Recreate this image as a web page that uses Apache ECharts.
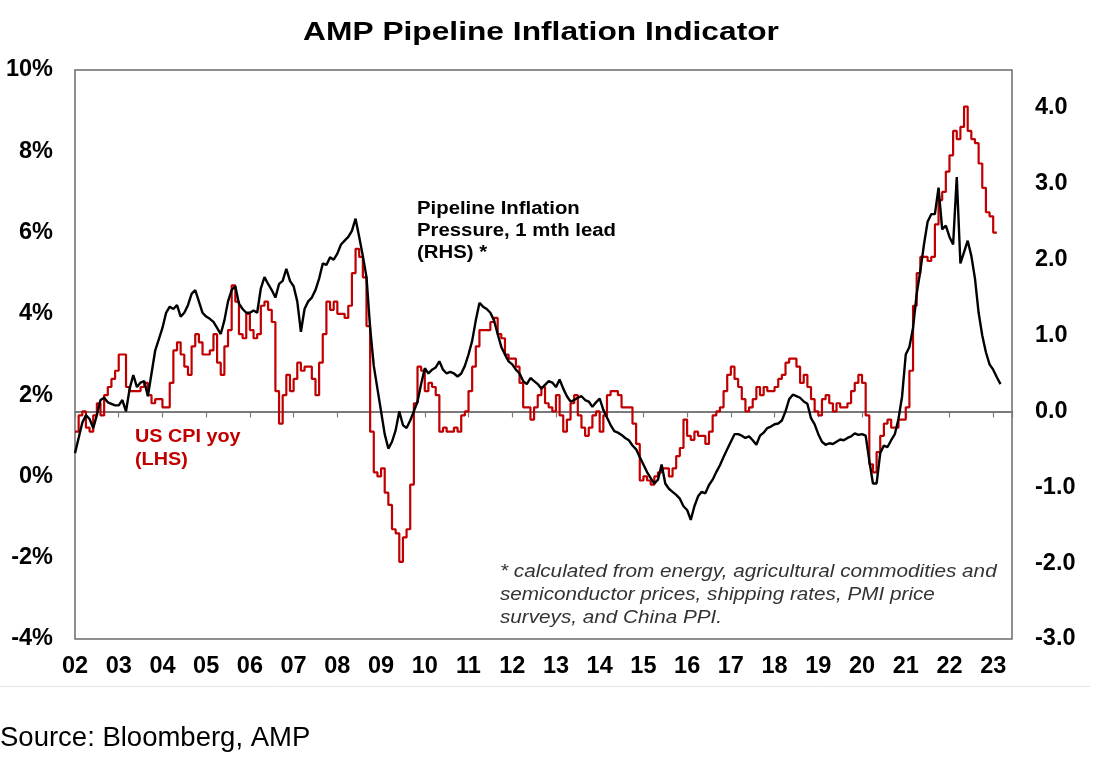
<!DOCTYPE html>
<html>
<head>
<meta charset="utf-8">
<script src="https://cdn.jsdelivr.net/npm/echarts@6/dist/echarts.min.js"></script>
<style>
html,body{margin:0;padding:0;background:#fff;}
#chart{width:1115px;height:764px;}
</style>
</head>
<body>
<div id="chart"></div>
<script>
// Monthly series start January 2002
const startYear = 2002;
const yearTicks = ['02','03','04','05','06','07','08','09','10','11','12','13','14','15','16','17','18','19','20','21','22','23'];

// US CPI yoy (%), LHS, Jan 2002 .. Feb 2023
const cpiYoy = [
  1.1,1.1,1.5,1.6,1.2,1.1,1.5,1.8,1.5,2.0,2.2,2.4,
  2.6,3.0,3.0,2.2,2.1,2.1,2.1,2.2,2.3,2.0,1.8,1.9,
  1.9,1.7,1.7,2.3,3.1,3.3,3.0,2.7,2.5,3.2,3.5,3.3,
  3.0,3.0,3.1,3.5,2.8,2.5,3.2,3.6,4.7,4.3,3.5,3.4,
  4.0,3.6,3.4,3.5,4.2,4.3,4.1,3.8,2.1,1.3,2.0,2.5,
  2.1,2.4,2.8,2.6,2.7,2.7,2.4,2.0,2.8,3.5,4.3,4.1,
  4.3,4.0,4.0,3.9,4.2,5.0,5.6,5.4,4.9,3.7,1.1,0.1,
  0.0,0.2,-0.4,-0.7,-1.3,-1.4,-2.1,-1.5,-1.3,-0.2,1.8,2.7,
  2.6,2.1,2.3,2.2,2.0,1.1,1.2,1.1,1.1,1.2,1.1,1.5,
  1.6,2.1,2.7,3.2,3.6,3.6,3.6,3.8,3.9,3.5,3.4,3.0,
  2.9,2.9,2.7,2.3,1.7,1.7,1.4,1.7,2.0,2.2,1.8,1.7,
  1.6,2.0,1.5,1.1,1.4,1.8,2.0,1.5,1.2,1.0,1.2,1.5,
  1.6,1.1,1.5,2.0,2.1,2.1,2.0,1.7,1.7,1.7,1.3,0.8,
  -0.1,0.0,-0.1,-0.2,0.0,0.1,0.2,0.2,0.0,0.2,0.5,0.7,
  1.4,1.0,0.9,1.1,1.0,1.0,0.8,1.1,1.5,1.6,1.7,2.1,
  2.5,2.7,2.4,2.2,1.9,1.6,1.7,1.9,2.2,2.0,2.2,2.1,
  2.1,2.2,2.4,2.5,2.8,2.9,2.9,2.7,2.3,2.5,2.2,1.9,
  1.6,1.5,1.9,2.0,1.8,1.6,1.8,1.7,1.7,1.8,2.1,2.3,
  2.5,2.3,1.5,0.3,0.1,0.6,1.0,1.3,1.4,1.2,1.2,1.4,
  1.4,1.7,2.6,4.2,5.0,5.4,5.4,5.3,5.4,6.2,6.8,7.0,
  7.5,7.9,8.5,8.3,8.6,9.1,8.5,8.3,8.2,7.7,7.1,6.5,
  6.4,6.0
];

// Pipeline Inflation Pressure, 1 mth lead, RHS, Jan 2002 .. Mar 2023
const pipeline = [
  -0.55,-0.35,-0.15,-0.05,-0.10,-0.22,-0.05,0.15,0.18,0.12,0.10,0.08,
  0.08,0.15,0.00,0.30,0.48,0.32,0.38,0.40,0.20,0.50,0.80,0.95,
  1.10,1.30,1.38,1.35,1.40,1.25,1.30,1.40,1.55,1.60,1.45,1.30,
  1.25,1.22,1.18,1.10,1.02,1.20,1.45,1.60,1.65,1.42,1.35,1.30,
  1.30,1.33,1.30,1.62,1.77,1.68,1.60,1.50,1.68,1.72,1.88,1.72,
  1.65,1.45,1.05,1.35,1.45,1.50,1.60,1.75,1.95,1.93,2.03,2.00,
  2.08,2.20,2.25,2.30,2.38,2.54,2.30,2.05,1.77,1.10,0.60,0.30,
  0.00,-0.30,-0.49,-0.40,-0.25,0.00,-0.18,-0.22,-0.12,0.00,0.13,0.36,
  0.57,0.50,0.55,0.58,0.66,0.55,0.50,0.52,0.50,0.46,0.50,0.60,
  0.75,0.93,1.20,1.43,1.38,1.35,1.30,1.20,1.02,0.85,0.75,0.66,
  0.62,0.55,0.50,0.40,0.36,0.44,0.40,0.36,0.30,0.35,0.40,0.38,
  0.32,0.42,0.30,0.20,0.13,0.15,0.18,0.20,0.15,0.13,0.06,0.12,
  0.17,0.02,-0.08,-0.18,-0.26,-0.28,-0.31,-0.35,-0.38,-0.45,-0.50,-0.60,
  -0.70,-0.80,-0.88,-0.95,-0.90,-0.70,-0.95,-1.02,-1.06,-1.10,-1.15,-1.25,
  -1.30,-1.43,-1.25,-1.12,-1.06,-1.08,-0.97,-0.90,-0.80,-0.71,-0.60,-0.50,
  -0.40,-0.30,-0.30,-0.32,-0.35,-0.33,-0.38,-0.44,-0.32,-0.28,-0.22,-0.20,
  -0.17,-0.16,-0.12,0.00,0.16,0.22,0.20,0.18,0.13,0.10,-0.09,-0.17,
  -0.30,-0.40,-0.44,-0.42,-0.43,-0.40,-0.37,-0.38,-0.35,-0.33,-0.29,-0.31,
  -0.30,-0.32,-0.65,-0.95,-0.95,-0.55,-0.45,-0.47,-0.38,-0.30,-0.10,0.20,
  0.75,0.85,1.10,1.55,1.85,2.20,2.50,2.60,2.60,2.95,2.40,2.45,
  2.30,2.20,3.09,1.95,2.10,2.25,2.05,1.75,1.30,1.00,0.78,0.62,
  0.55,0.45,0.36
];

const toPairs = arr => arr.map((v, i) => [startYear + i / 12, v]);

const FONT = '"Liberation Sans", Arial, sans-serif';
const labelFont = {fontFamily: 'Liberation Sans, Arial, sans-serif', fontWeight: 'bold', fontSize: 23.5, color: '#000'};
const isInt = v => Math.abs(v - Math.round(v)) < 1e-6;

const chart = echarts.init(document.getElementById('chart'), null, {renderer: 'canvas'});
chart.setOption({
  animation: false,
  backgroundColor: '#fff',
  title: {
    show: false,
    text: 'AMP Pipeline Inflation Indicator'
  },
  grid: {left: 75, right: 103, top: 70, bottom: 125, show: true, borderColor: '#6a6a6a', borderWidth: 1.5, containLabel: false},
  xAxis: [
    {
      type: 'value', min: 2002, max: 2023.43, interval: 1, position: 'bottom',
      axisLine: {show: false, onZero: false},
      axisTick: {show: false}, splitLine: {show: false},
      axisLabel: Object.assign({margin: 16, showMaxLabel: false,
        formatter: v => { if (!isInt(v)) return ''; const i = Math.round(v) - 2002; return yearTicks[i] || ''; }}, labelFont)
    },
    {
      type: 'value', min: 2002, max: 2023.43, interval: 1, position: 'bottom',
      axisLine: {show: true, onZero: true, onZeroAxisIndex: 1, lineStyle: {color: '#7a7a7a', width: 1.8}},
      axisTick: {show: true, inside: false, length: 6, lineStyle: {color: '#7a7a7a', width: 1.2}},
      axisLabel: {show: false}, splitLine: {show: false}
    }
  ],
  yAxis: [
    {
      type: 'value', min: -4, max: 10, interval: 2, position: 'left',
      axisLine: {show: false, onZero: false}, axisTick: {show: false}, splitLine: {show: false},
      axisLabel: Object.assign({margin: 22, formatter: v => v + '%'}, labelFont)
    },
    {
      type: 'value', min: -3, max: 4.5, interval: 1, position: 'right',
      axisLine: {show: false, onZero: false}, axisTick: {show: false}, splitLine: {show: false},
      axisLabel: Object.assign({margin: 23, showMaxLabel: false, formatter: v => isInt(v) ? v.toFixed(1) : ''}, labelFont)
    }
  ],
  series: [
    {
      name: 'US CPI yoy (LHS)', type: 'line', xAxisIndex: 0, yAxisIndex: 0,
      data: toPairs(cpiYoy), step: 'start', showSymbol: false, symbol: 'none',
      lineStyle: {color: '#c00000', width: 2.2}, itemStyle: {color: '#c00000'}, z: 2
    },
    {
      name: 'Pipeline Inflation Pressure, 1 mth lead (RHS)', type: 'line', xAxisIndex: 0, yAxisIndex: 1,
      data: toPairs(pipeline), showSymbol: false, symbol: 'none',
      lineStyle: {color: '#000', width: 2.4}, itemStyle: {color: '#000'}, z: 3
    }
  ],
  graphic: [
    {type: 'text', x: 541, y: 33, scaleX: 1.22, z: 10, style: {
      text: 'AMP Pipeline Inflation Indicator', fill: '#000',
      font: 'bold 26px ' + FONT, align: 'center', verticalAlign: 'middle',
      textAlign: 'center', textVerticalAlign: 'middle'}},
    {type: 'text', x: 417, y: 198, scaleX: 1.13, z: 10, style: {
      text: 'Pipeline Inflation\nPressure, 1 mth lead\n(RHS) *', fill: '#000',
      font: 'bold 18px ' + FONT, lineHeight: 22}},
    {type: 'text', x: 135, y: 426, scaleX: 1.1, z: 10, style: {
      text: 'US CPI yoy\n(LHS)', fill: '#c00000',
      font: 'bold 18px ' + FONT, lineHeight: 23}},
    {type: 'text', x: 500, y: 560, scaleX: 1.15, z: 10, style: {
      text: '* calculated from energy, agricultural commodities and\nsemiconductor prices, shipping rates, PMI price\nsurveys, and China PPI.',
      fill: '#333', font: 'italic 18px ' + FONT, lineHeight: 23}},
    {type: 'line', z: 1, shape: {x1: 0, y1: 686.5, x2: 1090, y2: 686.5}, style: {stroke: '#e6e6e6', lineWidth: 1}},
    {type: 'text', x: 0, y: 724, z: 10, style: {
      text: 'Source: Bloomberg, AMP', fill: '#000',
      font: '27.5px ' + FONT}}
  ]
});
</script>
</body>
</html>
